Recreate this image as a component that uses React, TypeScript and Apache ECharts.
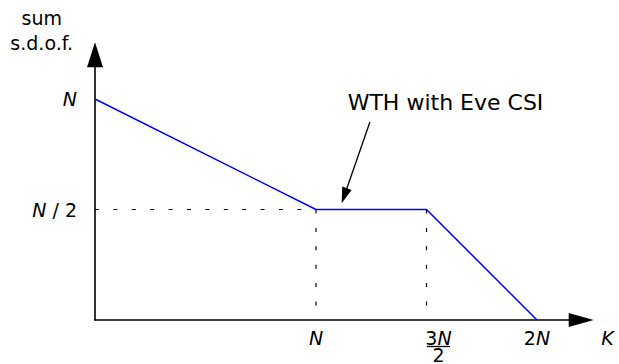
import React, { useEffect, useRef } from 'react';
import * as echarts from 'echarts';

// Values are in units of N on both axes
const curveX = [0, 1, 1.5, 2];
const curveY = [1, 0.5, 0.5, 0];
const guideHX = [0, 1];
const guideHY = [0.5, 0.5];
const guideVX = [1, 1];
const guideVY = [0.5, 0];
const guideV2X = [1.5, 1.5];
const guideV2Y = [0.5, 0];
const xTickValues = [1, 1.5, 2];
const xTickLabels = ['{i|N}', '{sp|}{u|3}{i|N}\n{sp|}{bar|}\n{sp|}{d|2}', '{u|2}{i|N}'];
const yTickValues = [0.5, 1];
const yTickLabels = ['{i|N} / {u|2}', '{i|N}'];
const xAxisName = 'K';
const yAxisNameLines = ['sum', 's.d.o.f.'];
const annotationText = 'WTH with Eve CSI';
const arrowFrom = [1.244, 0.896];
const arrowTo = [1.128, 0.562];

const FONT = 'DejaVu Sans';

export default function App() {
  const ref = useRef<HTMLDivElement>(null);
  useEffect(() => {
    const chart = echarts.init(ref.current!, null, { renderer: 'svg' });
    const pick = (vals: number[], labels: string[]) => (v: number) => {
      const i = vals.findIndex((t) => Math.abs(t - v) < 1e-6);
      return i >= 0 ? labels[i] : '';
    };
    const rich = {
      i: { fontStyle: 'italic', fontSize: 19, fontFamily: FONT, color: '#000', lineHeight: 15 },
      u: { fontSize: 19, fontFamily: FONT, color: '#000', lineHeight: 15 },
      d: { fontSize: 19, fontFamily: FONT, color: '#000', lineHeight: 14 },
      bar: { width: 23, height: 1.3, backgroundColor: '#000', lineHeight: 3 },
      sp: { width: 24, lineHeight: 1 },
    };
    const pts = (xs: number[], ys: number[]) => xs.map((x, k) => [x, ys[k]]);
    const dashed = (xs: number[], ys: number[]) => ({
      type: 'line',
      data: pts(xs, ys),
      symbol: 'none',
      silent: true,
      z: 1,
      lineStyle: { color: '#000', width: 1.2, type: [4, 14.4], dashOffset: 0 },
    });
    chart.setOption({
      animation: false,
      backgroundColor: '#fff',
      grid: { left: 95, right: 37.8, top: 54.8, bottom: 44, containLabel: false, outerBoundsMode: 'none' },
      xAxis: {
        type: 'value',
        min: 0,
        max: 2.2,
        interval: 0.5,
        axisLine: {
          show: true,
          onZero: false,
          symbol: ['none', 'triangle'],
          symbolSize: [14, 25],
          lineStyle: { color: '#000', width: 1.6 },
        },
        axisTick: { show: false },
        splitLine: { show: false },
        axisLabel: {
          formatter: pick(xTickValues, xTickLabels),
          margin: 10,
          rich,
          fontFamily: FONT,
          fontSize: 19,
          color: '#000',
        },
        name: xAxisName,
        nameLocation: 'end',
        nameGap: 20,
        nameTextStyle: {
          fontFamily: FONT,
          fontStyle: 'italic',
          fontSize: 19,
          color: '#000',
          verticalAlign: 'top',
          lineHeight: 15,
          padding: [10, 0, 0, 0],
        },
      },
      yAxis: {
        type: 'value',
        min: 0,
        max: 1.2,
        interval: 0.5,
        axisLine: {
          show: true,
          onZero: false,
          symbol: ['none', 'triangle'],
          symbolSize: [16, 25],
          lineStyle: { color: '#000', width: 1.6 },
        },
        axisTick: { show: false },
        splitLine: { show: false },
        axisLabel: {
          formatter: pick(yTickValues, yTickLabels),
          margin: 18,
          rich,
          fontFamily: FONT,
          fontSize: 19,
          color: '#000',
        },
      },
      series: [
        dashed(guideHX, guideHY),
        dashed(guideVX, guideVY),
        dashed(guideV2X, guideV2Y),
        {
          type: 'line',
          data: pts(curveX, curveY),
          symbol: 'none',
          silent: true,
          z: 3,
          lineStyle: { color: '#0000ff', width: 1.5 },
          markLine: {
            silent: true,
            symbol: ['none', 'none'],
            label: { show: false },
            emphasis: { disabled: true },
            lineStyle: { color: '#000', width: 1.3, type: 'solid' },
            data: [
              [
                { coord: arrowFrom, symbol: 'none' },
                { coord: arrowTo, symbol: 'triangle', symbolSize: [10, 16] },
              ],
            ],
          },
        },
      ],
      graphic: [
        {
          type: 'text',
          x: 41.7,
          y: 17.6,
          style: { text: yAxisNameLines[0], fontFamily: FONT, fontSize: 19, fill: '#000', align: 'center', verticalAlign: 'middle' },
        },
        {
          type: 'text',
          x: 41.7,
          y: 43.4,
          style: { text: yAxisNameLines[1], fontFamily: FONT, fontSize: 19, fill: '#000', align: 'center', verticalAlign: 'middle' },
        },
        {
          type: 'text',
          x: 445.5,
          y: 102.7,
          style: { text: annotationText, fontFamily: FONT, fontSize: 22, fill: '#000', align: 'center', verticalAlign: 'middle' },
        },
      ],
    });
    return () => chart.dispose();
  }, []);
  return <div ref={ref} style={{ position: 'fixed', left: 0, top: 0, width: 619, height: 364 }} />;
}
